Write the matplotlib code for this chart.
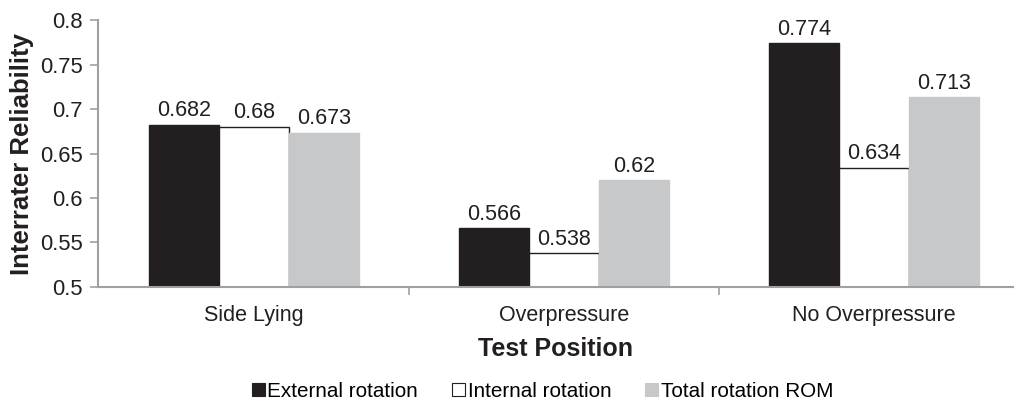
import matplotlib
matplotlib.use("Agg")
import matplotlib.pyplot as plt
import numpy as np

positions = ["Side Lying", "Overpressure", "No Overpressure"]
series_names = ["External rotation", "Internal rotation", "Total rotation ROM"]
external = [0.682, 0.566, 0.774]
internal = [0.680, 0.538, 0.634]
total = [0.673, 0.620, 0.713]
value_labels = [["0.682", "0.566", "0.774"],
                ["0.68", "0.538", "0.634"],
                ["0.673", "0.62", "0.713"]]

plt.rcParams["font.family"] = ["Liberation Sans", "DejaVu Sans"]

fig = plt.figure(figsize=(10.18, 4.01), dpi=100)
ax = fig.add_axes([0.0963, 0.2843, 0.8987, 0.6658])

x = np.arange(len(positions))
width = 0.225
face = ["#231f20", "#ffffff", "#c7c8ca"]
edge = ["#231f20", "#231f20", "#c7c8ca"]
data = [external, internal, total]

bars = []
for i, vals in enumerate(data):
    b = ax.bar(x + (i - 1) * width, vals, width, bottom=0,
               color=face[i], edgecolor=edge[i], linewidth=1.0,
               label=series_names[i], zorder=2)
    bars.append(b)
    for rect, txt in zip(b, value_labels[i]):
        ax.text(rect.get_x() + rect.get_width() / 2, rect.get_height() + 0.004,
                txt, ha="center", va="bottom", fontsize=15.5, color="#231f20")

ax.set_ylim(0.5, 0.8)
ax.set_yticks(np.arange(0.5, 0.801, 0.05))
ax.set_yticklabels(["0.5", "0.55", "0.6", "0.65", "0.7", "0.75", "0.8"])
ax.set_xlim(-0.503, 2.448)
ax.set_xticks(x)
ax.set_xticklabels(positions)
ax.set_xticks([0.5, 1.5], minor=True)

for s in ["top", "right"]:
    ax.spines[s].set_visible(False)
for s in ["left", "bottom"]:
    ax.spines[s].set_color("#a0a0a0")
    ax.spines[s].set_linewidth(1.5)
    ax.spines[s].set_zorder(3)

ax.tick_params(axis="y", which="major", direction="out", length=6, width=1.2,
               color="#a0a0a0", labelsize=15.8, labelcolor="#231f20", pad=5)
ax.tick_params(axis="x", which="major", length=0, labelsize=15.5,
               labelcolor="#231f20", pad=13)
ax.tick_params(axis="x", which="minor", direction="out", length=6, width=1.2,
               color="#a0a0a0")

ax.set_ylabel("Interrater Reliability", fontsize=18.5, fontweight="bold",
              color="#231f20", labelpad=4)
ax.set_xlabel("Test Position", fontsize=18, fontweight="bold",
              color="#231f20", labelpad=8)

leg = fig.legend(handles=bars, labels=series_names, loc="center",
                 bbox_to_anchor=(0.533, 0.024), ncol=3, frameon=False,
                 fontsize=14.9, handlelength=0.62, handleheight=0.62,
                 handletextpad=0.12, columnspacing=1.65)
for h in leg.legend_handles:
    h.set_linewidth(0.8)

fig.savefig("out.png", dpi=100)
